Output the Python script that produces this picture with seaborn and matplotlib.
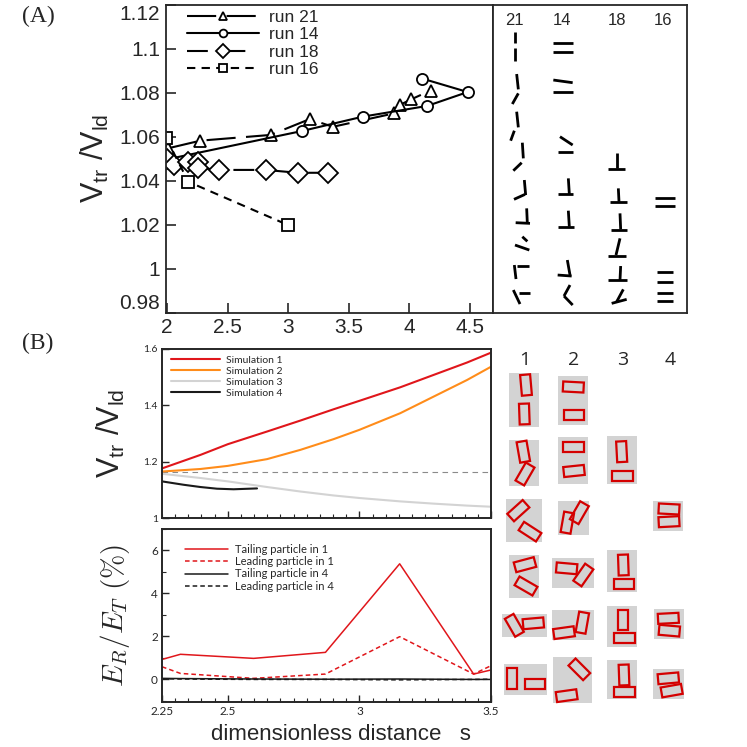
import numpy as np
import pandas as pd
import seaborn as sns
import matplotlib.pyplot as plt
from matplotlib.patches import Rectangle
from matplotlib.ticker import MultipleLocator, FuncFormatter

# ---------------- panel A : measured velocity ratio
run21_s = [2.008, 2.276, 2.855, 3.178, 3.369, 3.874, 3.92, 4.016, 4.175]
run21_v = [1.0547, 1.0582, 1.0608, 1.068, 1.0645, 1.0706, 1.0744, 1.077, 1.081]
run14_s = [2.0, 3.115, 3.615, 4.148, 4.481, 4.107]
run14_v = [1.0497, 1.0626, 1.0691, 1.074, 1.0803, 1.0864]
run18_s = [2.0, 2.057, 2.172, 2.254, 2.254, 2.431, 2.814, 3.079, 3.325]
run18_v = [1.0497, 1.0471, 1.0486, 1.0486, 1.0459, 1.0449, 1.0449, 1.0436, 1.0436]
run16_s = [1.995, 2.177, 2.997]
run16_v = [1.0593, 1.0395, 1.0199]
a_xticks = [2, 2.5, 3, 3.5, 4, 4.5]
a_yticks = [0.98, 1.0, 1.02, 1.04, 1.06, 1.08, 1.1, 1.12]

# particle sketches of panel A (segment end points, sketch units)
col_labels_a = ["21", "14", "18", "16"]
col_x_a = [72, 215, 380, 520]
sketch_a = [
    # run 21
    [(75, 95, 75, 130), (75, 145, 75, 182),
     (80, 222, 85, 268), (85, 280, 67, 312),
     (80, 335, 85, 382), (73, 392, 62, 422),
     (97, 428, 100, 475), (95, 488, 70, 512),
     (103, 540, 107, 585), (105, 583, 72, 598),
     (110, 625, 112, 670), (77, 668, 120, 670),
     (97, 710, 112, 724), (75, 735, 118, 750),
     (73, 795, 78, 837), (80, 797, 118, 797),
     (70, 870, 90, 912), (88, 880, 120, 880)],
    # run 14
    [(190, 128, 248, 128), (190, 157, 248, 157),
     (190, 240, 248, 248), (190, 275, 248, 275),
     (210, 410, 248, 435), (203, 455, 248, 455),
     (235, 535, 238, 582), (203, 583, 248, 583),
     (235, 632, 238, 680), (203, 680, 253, 680),
     (232, 780, 240, 825), (203, 825, 245, 828),
     (240, 855, 222, 888), (222, 888, 248, 915)],
    # run 18
    [(380, 458, 380, 505), (355, 507, 405, 507),
     (385, 565, 387, 605), (360, 607, 410, 607),
     (390, 640, 392, 688), (363, 690, 412, 690),
     (390, 715, 378, 765), (355, 768, 408, 768),
     (392, 798, 390, 840), (355, 840, 410, 840),
     (400, 868, 380, 905), (365, 910, 410, 898)],
    # run 16
    [(495, 593, 555, 593), (495, 618, 555, 618),
     (500, 815, 548, 815), (500, 845, 550, 845),
     (500, 878, 550, 878), (500, 903, 550, 903)],
]

# ---------------- panel B : simulations
sim_s = [2.25, 2.396, 2.5, 2.649, 2.776, 2.902, 3.0, 3.155, 3.282, 3.409, 3.5]
sim1 = [1.176, 1.224, 1.262, 1.307, 1.346, 1.386, 1.416, 1.464, 1.508, 1.552, 1.587]
sim2 = [1.165, 1.174, 1.185, 1.209, 1.242, 1.280, 1.313, 1.372, 1.431, 1.490, 1.537]
sim3 = [1.157, 1.142, 1.130, 1.110, 1.094, 1.080, 1.071, 1.059, 1.051, 1.044, 1.040]
sim4_s = [2.25, 2.332, 2.396, 2.459, 2.522, 2.611]
sim4 = [1.130, 1.118, 1.110, 1.104, 1.102, 1.105]
ref_level = 1.163

er_s = [2.25, 2.320, 2.598, 2.871, 3.153, 3.434, 3.5]
tail1 = [0.93, 1.17, 0.98, 1.26, 5.38, 0.25, 0.44]
lead1 = [0.59, 0.28, 0.05, 0.25, 1.99, 0.25, 0.64]
tail4 = [0.05, 0.04, 0.02, 0.01, 0.02, 0.0, 0.0]
lead4 = [0.03, 0.02, 0.0, 0.0, -0.02, 0.0, 0.01]

# particle sketches of panel B: gray boxes (x0, y0, x1, y1) and particles (cx, cy, angle)
col_labels_b = ["1", "2", "3", "4"]
col_x_b = [103, 250, 397, 540]
boxes_b = [
    (57, 128, 147, 292), (205, 138, 293, 285),
    (57, 330, 147, 468), (205, 320, 295, 463), (352, 318, 442, 463),
    (47, 507, 157, 635), (203, 513, 298, 615), (490, 513, 578, 603),
    (57, 675, 147, 803), (187, 683, 312, 773), (352, 660, 442, 787),
    (37, 852, 170, 922), (187, 840, 312, 930), (352, 828, 442, 950), (492, 838, 582, 928),
    (43, 1003, 170, 1095), (190, 980, 305, 1120), (352, 990, 442, 1108), (490, 1018, 582, 1108),
]
particles_b = [
    (108, 165, 95), (103, 252, 92), (250, 171, -3), (252, 254, 0),
    (100, 365, 100), (105, 432, 60), (250, 352, 0), (252, 423, 6),
    (395, 365, 93), (397, 437, 0),
    (85, 542, 42), (120, 605, -33), (232, 578, 80), (268, 548, 60),
    (537, 537, -3), (537, 575, 3),
    (105, 704, 15), (108, 768, -30), (230, 715, -5), (280, 735, 55),
    (400, 705, 92), (402, 762, 0),
    (73, 886, -60), (130, 880, 5), (222, 908, 8), (277, 878, 80),
    (400, 870, 90), (403, 923, 0), (535, 865, 3), (538, 902, -5),
    (65, 1045, 90), (135, 1062, 0), (268, 1018, -45), (230, 1097, 8),
    (402, 1035, 92), (404, 1087, 0), (535, 1045, 5), (545, 1082, 10),
]
particle_len, particle_wid = 62, 30

sns.set_style("ticks")
plt.rcParams["font.family"] = ["Liberation Sans", "DejaVu Sans"]
plt.rcParams["mathtext.fontset"] = "custom"
plt.rcParams["mathtext.rm"] = "Liberation Sans"
plt.rcParams["mathtext.it"] = "Liberation Sans:italic"
plt.rcParams["xtick.direction"] = "in"
plt.rcParams["ytick.direction"] = "in"

W = 747.0
fig = plt.figure(figsize=(7.47, 7.47), dpi=100)


def px_axes(x0, y0, x1, y1):
    return fig.add_axes([x0 / W, 1 - y1 / W, (x1 - x0) / W, (y1 - y0) / W])


gfmt = FuncFormatter(lambda v, p: "%g" % round(v, 3))

# ---------------- panel A, plot
axA = px_axes(165.7, 4.7, 493, 312.7)
mk = dict(markerfacecolor="white", markeredgecolor="black", markeredgewidth=1.3,
          color="black", linewidth=1.5, estimator=None, sort=False, ax=axA)
sns.lineplot(x=run21_s, y=run21_v, marker="^", markersize=9, linestyle=(0, (14, 5)),
             label="run 21", **mk)
sns.lineplot(x=run14_s, y=run14_v, marker="o", markersize=8, linestyle="-",
             label="run 14", **mk)
sns.lineplot(x=run18_s, y=run18_v, marker="D", markersize=10, linestyle=(0, (10, 8)),
             label="run 18", **mk)
sns.lineplot(x=run16_s, y=run16_v, marker="s", markersize=9, linestyle=(0, (4, 3)),
             label="run 16", **mk)
axA.set_xlim(1.99, 4.69)
axA.set_ylim(0.98, 1.12)
axA.set_xticks(a_xticks)
axA.set_yticks(a_yticks)
axA.xaxis.set_major_formatter(gfmt)
axA.yaxis.set_major_formatter(gfmt)
axA.tick_params(labelsize=15, length=7, width=1.2, pad=4)
ymaj = axA.yaxis.get_major_ticks()
ymaj[0].label1.set_verticalalignment("bottom")
ymaj[-1].label1.set_verticalalignment("top")
for sp in axA.spines.values():
    sp.set_linewidth(1.3)
axA.set_ylabel(r"$\mathrm{V_{tr}\ /V_{ld}}$", fontsize=22, labelpad=6)
leg = axA.legend(loc="upper left", bbox_to_anchor=(0.045, 1.005), frameon=False,
                 fontsize=12.5, handlelength=4.1, handletextpad=0.6,
                 labelspacing=0.12, borderaxespad=0, markerscale=0.7)

# ---------------- panel A, sketches
axS = px_axes(493, 4.7, 687, 312.7)
axS.set_xlim(9, 591)
axS.set_ylim(938, 14)
axS.set_xticks([])
axS.set_yticks([])
for sp in axS.spines.values():
    sp.set_linewidth(1.3)
for lab, cx in zip(col_labels_a, col_x_a):
    axS.text(cx, 60, lab, ha="center", va="center", fontsize=12)
for segs in sketch_a:
    for x1, y1, x2, y2 in segs:
        axS.plot([x1, x2], [y1, y2], color="black", lw=2.0, solid_capstyle="butt")

# ---------------- panel B, velocity ratio
axB1 = px_axes(162, 349, 491, 518)
sim_df = pd.DataFrame({"s": sim_s, "Simulation 1": sim1, "Simulation 2": sim2,
                       "Simulation 3": sim3})
sim_colors = {"Simulation 1": "#e0161b", "Simulation 2": "#ff8c1a",
              "Simulation 3": "#d3d3d3", "Simulation 4": "#1a1a1a"}
for name in ["Simulation 1", "Simulation 2", "Simulation 3"]:
    sns.lineplot(data=sim_df, x="s", y=name, color=sim_colors[name], lw=1.5,
                 label=name, ax=axB1)
sns.lineplot(x=sim4_s, y=sim4, color=sim_colors["Simulation 4"], lw=1.5,
             label="Simulation 4", ax=axB1)
axB1.axhline(ref_level, color="#8a8a8a", lw=0.8, linestyle=(0, (5, 4)), zorder=1)
axB1.set_xlim(2.25, 3.5)
axB1.set_ylim(1.0, 1.6)
axB1.xaxis.set_major_locator(MultipleLocator(0.5))
axB1.xaxis.set_minor_locator(MultipleLocator(0.05))
axB1.yaxis.set_major_locator(MultipleLocator(0.2))
axB1.yaxis.set_major_formatter(gfmt)
axB1.set_xticklabels([])
axB1.set_xlabel("")
axB1.tick_params(axis="both", labelsize=7.5, length=5, width=1.0, pad=3)
axB1.tick_params(axis="x", which="minor", length=3, width=0.8)
for lab in axB1.get_yticklabels():
    lab.set_family(["Lato", "DejaVu Sans"])
for sp in axB1.spines.values():
    sp.set_linewidth(1.4)
axB1.set_ylabel(r"$\mathrm{V_{tr}\ /V_{ld}}$", fontsize=22, labelpad=12)
axB1.legend(loc="upper left", bbox_to_anchor=(0.015, 0.985), frameon=False,
            prop={"family": ["Lato", "DejaVu Sans"], "size": 7.5},
            handlelength=4.7, handletextpad=0.6, labelspacing=0.15, borderaxespad=0)

# ---------------- panel B, energy ratio
axB2 = px_axes(162, 529, 491, 702)
er_df = pd.DataFrame({"s": er_s, "tail1": tail1, "lead1": lead1,
                      "tail4": tail4, "lead4": lead4})
sns.lineplot(data=er_df, x="s", y="tail1", color="#e0161b", lw=1.1,
             label="Tailing particle in 1", ax=axB2)
sns.lineplot(data=er_df, x="s", y="lead1", color="#e0161b", lw=1.1,
             linestyle=(0, (3, 2)), label="Leading particle in 1", ax=axB2)
sns.lineplot(data=er_df, x="s", y="tail4", color="#1a1a1a", lw=1.1,
             label="Tailing particle in 4", ax=axB2)
sns.lineplot(data=er_df, x="s", y="lead4", color="#1a1a1a", lw=1.1,
             linestyle=(0, (3, 2)), label="Leading particle in 4", ax=axB2)
axB2.set_xlim(2.25, 3.5)
axB2.set_ylim(-1.05, 7.0)
axB2.set_xticks([2.25, 2.5, 3.0, 3.5])
axB2.xaxis.set_major_formatter(gfmt)
axB2.xaxis.set_minor_locator(MultipleLocator(0.05))
axB2.yaxis.set_major_locator(MultipleLocator(2))
axB2.yaxis.set_minor_locator(MultipleLocator(1))
axB2.tick_params(axis="both", labelsize=8.5, length=5, width=1.0, pad=3)
axB2.tick_params(axis="both", which="minor", length=3, width=0.8)
for lab in axB2.get_xticklabels() + axB2.get_yticklabels():
    lab.set_family(["Lato", "DejaVu Sans"])
for sp in axB2.spines.values():
    sp.set_linewidth(1.4)
axB2.set_ylabel(r"$E_R/E_T\ (\%)$", fontsize=21, labelpad=14, math_fontfamily="cm")
axB2.set_xlabel("dimensionless distance   s", fontsize=16)
axB2.xaxis.set_label_coords(0.545, -0.125)
axB2.legend(loc="upper left", bbox_to_anchor=(0.055, 0.94), frameon=False,
            prop={"family": ["Lato", "DejaVu Sans"], "size": 8},
            handlelength=3.9, handletextpad=0.6, labelspacing=0.12, borderaxespad=0)

# ---------------- panel B, particle sketches
axP = px_axes(490, 330, 747, 747)
axP.set_xlim(0, 771)
axP.set_ylim(1251, 0)
axP.axis("off")
for lab, cx in zip(col_labels_b, col_x_b):
    axP.text(cx, 90, lab, ha="center", va="center", fontsize=14,
             family=["Open Sans", "DejaVu Sans"])
for x0, y0, x1, y1 in boxes_b:
    axP.add_patch(Rectangle((x0, y0), x1 - x0, y1 - y0, facecolor="#d3d3d3",
                            edgecolor="none"))
for cx, cy, ang in particles_b:
    axP.add_patch(Rectangle((cx - particle_len / 2, cy - particle_wid / 2),
                            particle_len, particle_wid, angle=-ang,
                            rotation_point="center", facecolor="none",
                            edgecolor="#d40000", lw=1.6))

# panel letters
fig.text(22 / W, 1 - 16 / W, "(A)", fontsize=17, family=["Liberation Serif", "DejaVu Serif"],
         va="center")
fig.text(22 / W, 1 - 343 / W, "(B)", fontsize=17, family=["Liberation Serif", "DejaVu Serif"],
         va="center")

fig.savefig("out.png", dpi=100)
